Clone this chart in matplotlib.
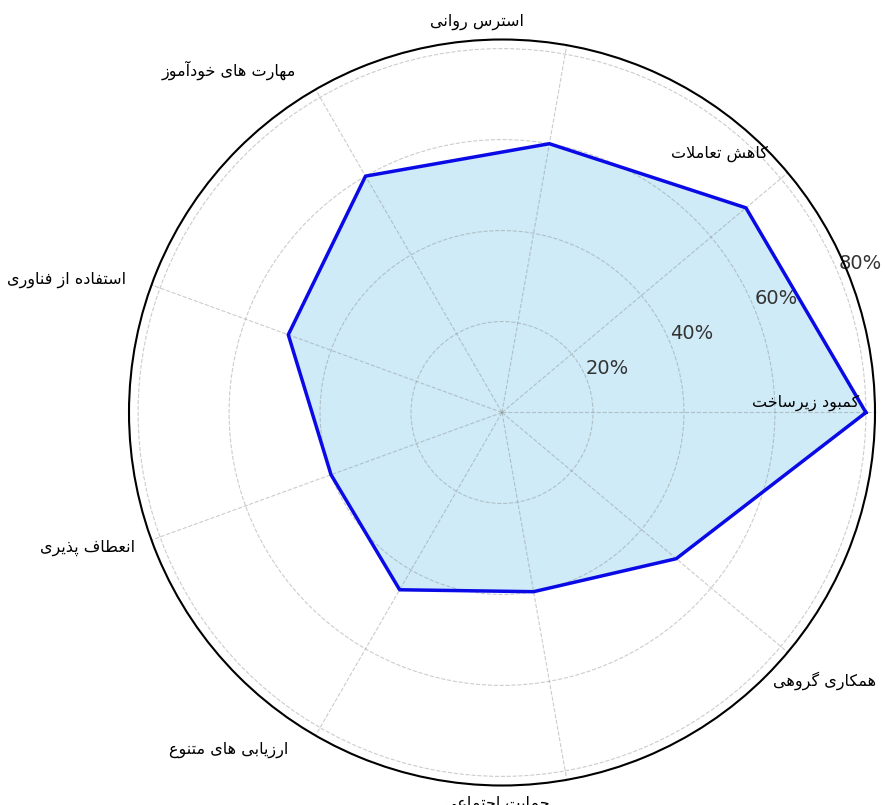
import numpy as np
import matplotlib.pyplot as plt

# persian labels, counter-clockwise from 0 deg
labels = ['کمبود زیرساخت', 'کاهش تعاملات', 'استرس روانی', 'مهارت های خودآموز',
          'استفاده از فناوری', 'انعطاف پذیری', 'ارزیابی های متنوع',
          'حمایت اجتماعی', 'همکاری گروهی']
values = [80, 70, 60, 60, 50, 40, 45, 40, 50]
rticks = [20, 40, 60, 80]
rtick_labels = ['20%', '40%', '60%', '80%']

# label nudges in pixels from the outer circle (x right, y up)
nudge = [(-69, 10), (-68, 19), (-90, 23), (-87, 19), (-85, 5),
         (-64, -8), (-87, -14), (-70, -23), (37, -28)]

# minimal arabic/persian shaping (matplotlib has no shaping)
FORMS = {
    '\u0622': ('\uFE81', '\uFE82', None, None),
    '\u0627': ('\uFE8D', '\uFE8E', None, None),
    '\u0628': ('\uFE8F', '\uFE90', '\uFE91', '\uFE92'),
    '\u067E': ('\uFB56', '\uFB57', '\uFB58', '\uFB59'),
    '\u062A': ('\uFE95', '\uFE96', '\uFE97', '\uFE98'),
    '\u062C': ('\uFE9D', '\uFE9E', '\uFE9F', '\uFEA0'),
    '\u062D': ('\uFEA1', '\uFEA2', '\uFEA3', '\uFEA4'),
    '\u062E': ('\uFEA5', '\uFEA6', '\uFEA7', '\uFEA8'),
    '\u062F': ('\uFEA9', '\uFEAA', None, None),
    '\u0630': ('\uFEAB', '\uFEAC', None, None),
    '\u0631': ('\uFEAD', '\uFEAE', None, None),
    '\u0632': ('\uFEAF', '\uFEB0', None, None),
    '\u0633': ('\uFEB1', '\uFEB2', '\uFEB3', '\uFEB4'),
    '\u0634': ('\uFEB5', '\uFEB6', '\uFEB7', '\uFEB8'),
    '\u0637': ('\uFEC1', '\uFEC2', '\uFEC3', '\uFEC4'),
    '\u0639': ('\uFEC9', '\uFECA', '\uFECB', '\uFECC'),
    '\u0641': ('\uFED1', '\uFED2', '\uFED3', '\uFED4'),
    '\u0642': ('\uFED5', '\uFED6', '\uFED7', '\uFED8'),
    '\u06A9': ('\uFB8E', '\uFB8F', '\uFB90', '\uFB91'),
    '\u06AF': ('\uFB92', '\uFB93', '\uFB94', '\uFB95'),
    '\u0644': ('\uFEDD', '\uFEDE', '\uFEDF', '\uFEE0'),
    '\u0645': ('\uFEE1', '\uFEE2', '\uFEE3', '\uFEE4'),
    '\u0646': ('\uFEE5', '\uFEE6', '\uFEE7', '\uFEE8'),
    '\u0647': ('\uFEE9', '\uFEEA', '\uFEEB', '\uFEEC'),
    '\u0648': ('\uFEED', '\uFEEE', None, None),
    '\u06CC': ('\uFBFC', '\uFBFD', '\uFBFE', '\uFBFF'),
}
LAM_ALEF = {'\u0627': ('\uFEFB', '\uFEFC'), '\u0622': ('\uFEF5', '\uFEF6')}


def shape(s):
    s = s.replace('\u064A', '\u06CC').replace('\u0643', '\u06A9')
    # merge lam + alef into one unit
    units = []
    i = 0
    while i < len(s):
        if s[i] == '\u0644' and i + 1 < len(s) and s[i + 1] in LAM_ALEF:
            units.append(('LA', s[i + 1]))
            i += 2
        else:
            units.append(('C', s[i]))
            i += 1

    def joins_next(u):  # can connect to the following letter
        return u[0] == 'C' and u[1] in FORMS and FORMS[u[1]][2] is not None

    def joinable(u):
        return u[0] == 'LA' or u[1] in FORMS

    out = []
    for k, u in enumerate(units):
        prev = units[k - 1] if k > 0 else None
        nxt = units[k + 1] if k + 1 < len(units) else None
        p = prev is not None and joins_next(prev) and joinable(u)
        if u[0] == 'LA':
            out.append(LAM_ALEF[u[1]][1 if p else 0])
            continue
        c = u[1]
        if c not in FORMS:
            out.append(c)
            continue
        n = nxt is not None and joins_next(u) and joinable(nxt)
        iso, fin, ini, med = FORMS[c]
        if p and n:
            out.append(med)
        elif p:
            out.append(fin)
        elif n:
            out.append(ini)
        else:
            out.append(iso)
    return ''.join(out)[::-1]


n = len(labels)
theta = np.linspace(0, 2 * np.pi, n, endpoint=False)
theta_c = np.append(theta, theta[0])
values_c = values + values[:1]

fig = plt.figure(figsize=(8.85, 8.05), dpi=100)
ax = fig.add_axes([129 / 885, 19.5 / 805, 746 / 885, 746 / 805], projection='polar')

ax.fill(theta_c, values_c, color='skyblue', alpha=0.4)
ax.plot(theta_c, values_c, color='#0a0ae6', linewidth=2.5)

ax.set_ylim(0, 82)
ax.set_yticks(rticks, rtick_labels, fontsize=14, color='#333333')
ax.set_xticks(theta, [''] * n)
ax.grid(True, linestyle='--', color='gray', alpha=0.4, linewidth=0.8)
ax.spines['polar'].set_linewidth(1.5)

for t, lab, (dx, dy) in zip(theta, labels, nudge):
    ax.annotate(shape(lab), xy=(t, 82), xytext=(dx, dy), textcoords='offset pixels',
                ha='center', va='center', fontsize=11.5, color='black')

fig.savefig('out.png', dpi=100)
